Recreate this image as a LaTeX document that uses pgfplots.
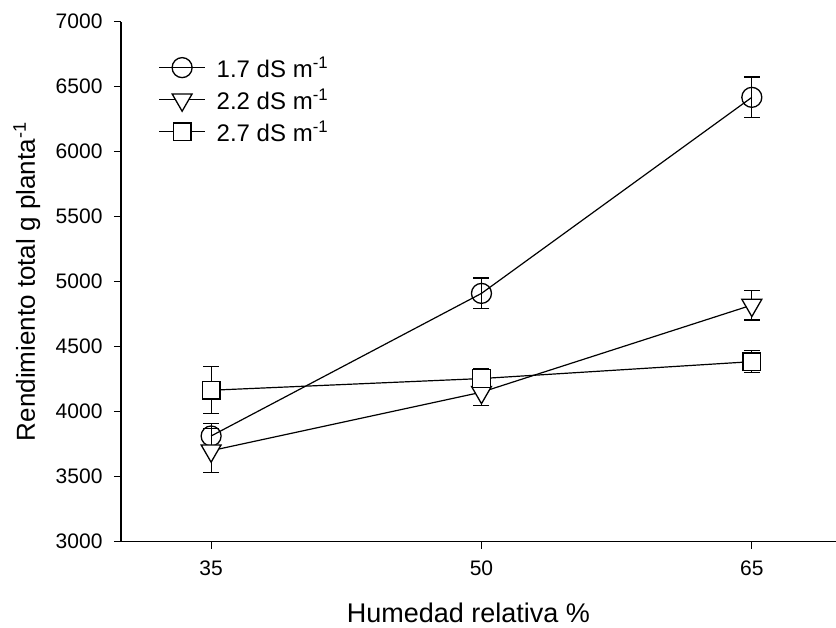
\documentclass[border=0pt]{standalone}
\usepackage{pgfplots}
\pgfplotsset{compat=1.18}
\usepackage{fontspec}
\setmainfont{Liberation Sans}

\pgfplotstableread{
x y e
35 3813 95
50 4910 118
65 6418 156
}\seriesA
\pgfplotstableread{
x y e
35 3700 170
50 4150 100
65 4820 115
}\seriesB
\pgfplotstableread{
x y e
35 4165 180
50 4255 77
65 4385 85
}\seriesC

\begin{document}
\begin{tikzpicture}
\begin{axis}[
  scale only axis, width=715pt, height=520pt,
  xmin=30, xmax=69.67, ymin=3000, ymax=7000,
  axis lines=left, axis line style={-, line width=1.3pt},
  xtick={35,50,65}, ytick={3000,3500,...,7000},
  tick align=outside, major tick length=7pt,
  tick style={line width=1.2pt, black},
  minor tick num=0,
  /pgf/number format/1000 sep={},
  /pgf/number format/assume math mode=true,
  tick label style={font=\fontsize{21}{25}\selectfont},
  xticklabel style={yshift=-9pt},
  yticklabel style={xshift=-8pt},
  every axis x label/.style={at={(axis description cs:0.5,0)}, anchor=base, yshift=-81pt, xshift=-10pt, font=\fontsize{27}{31}\selectfont, inner sep=0pt},
  every axis y label/.style={at={(axis description cs:0,0.5)}, rotate=90, anchor=base, yshift=86pt, font=\fontsize{26}{30}\selectfont, inner sep=0pt},
  xlabel={Humedad relativa \%},
  ylabel={Rendimiento total g planta\textsuperscript{-1}},
  legend style={at={(axis description cs:0.048,0.941)}, anchor=north west, draw=none, fill=none,
    font=\fontsize{24}{28}\selectfont, row sep=6pt, column sep=6pt, cells={anchor=west},
    nodes={inner xsep=5pt}},
  legend image code/.code={\draw[mark repeat=2,mark phase=2] plot coordinates {(0pt,0pt) (23pt,0pt) (46pt,0pt)};},
  error bars/error bar style={line width=1.2pt, black},
  error bars/error mark options={rotate=90, mark size=8pt, line width=1.2pt, black},
]
\addplot[black, line width=1.2pt, mark=o, mark size=10pt, mark options={fill=white, line width=1.3pt}, error bars/.cd, y dir=both, y explicit] table[x=x, y=y, y error=e] {\seriesA};
\addlegendentry{1.7 dS m\textsuperscript{-1}}
\addplot[black, line width=1.2pt, mark=triangle*, mark size=11.5pt, mark options={rotate=180, fill=white, line width=1.3pt}, error bars/.cd, y dir=both, y explicit] table[x=x, y=y, y error=e] {\seriesB};
\addlegendentry{2.2 dS m\textsuperscript{-1}}
\addplot[black, line width=1.2pt, mark=square*, mark size=8.75pt, mark options={fill=white, line width=1.3pt}, error bars/.cd, y dir=both, y explicit] table[x=x, y=y, y error=e] {\seriesC};
\addlegendentry{2.7 dS m\textsuperscript{-1}}
\end{axis}
\pgfresetboundingbox
\path[use as bounding box] (current axis.south west) ++(-121pt,-86.3pt) rectangle ++(836pt,628pt);
\end{tikzpicture}
\end{document}
